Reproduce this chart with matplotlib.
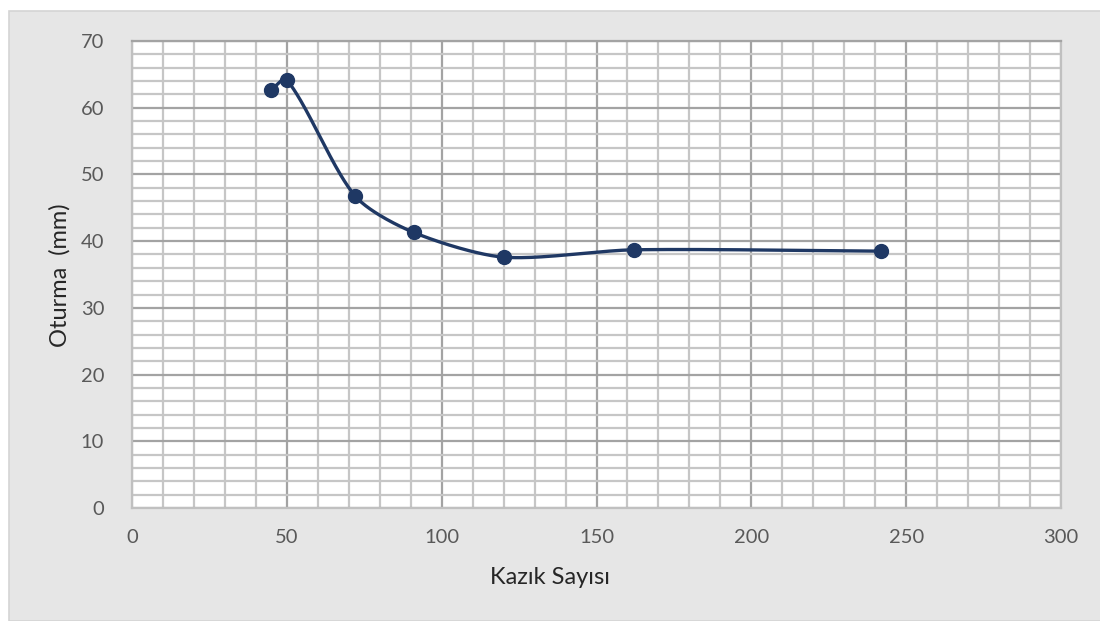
import numpy as np
import matplotlib.pyplot as plt
from matplotlib.patches import Rectangle
from matplotlib.ticker import MultipleLocator

# okunan degerler
kazik = [45, 50, 72, 91, 120, 162, 242]
oturma = [62.7, 64.2, 46.8, 41.3, 37.6, 38.7, 38.5]

x_ticks = [0, 50, 100, 150, 200, 250, 300]
y_ticks = [0, 10, 20, 30, 40, 50, 60, 70]

renk = '#1f3864'
yazi = '#595959'


def excel_smooth(x, y, sx, sy, k=0.27, n=40):
    """Excel benzeri yumusatilmis cizgi (bezier), ekran olceginde"""
    p = np.column_stack([np.asarray(x) * sx, np.asarray(y) * sy])
    p = np.vstack([p[0], p, p[-1]])
    t = np.linspace(0, 1, n)[:, None]
    out = []
    for i in range(1, len(p) - 2):
        p0, p1 = p[i], p[i + 1]
        L = np.linalg.norm(p1 - p0)
        d0 = p[i + 1] - p[i - 1]
        d1 = p[i + 2] - p[i]
        c1 = p0 + d0 / np.linalg.norm(d0) * L * k
        c2 = p1 - d1 / np.linalg.norm(d1) * L * k
        seg = ((1 - t) ** 3) * p0 + 3 * ((1 - t) ** 2) * t * c1 + 3 * (1 - t) * t ** 2 * c2 + t ** 3 * p1
        out.append(seg)
    out = np.vstack(out)
    return out[:, 0] / sx, out[:, 1] / sy


plt.rcParams['font.family'] = ['Lato', 'DejaVu Sans']

fig = plt.figure(figsize=(11, 6.21), dpi=100)
fig.patches.append(Rectangle((9 / 1100, 0), 1, 1 - 11 / 621, transform=fig.transFigure,
                             facecolor='#e6e6e6', edgecolor='#d4d4d4', lw=1.2, zorder=-10))

ax = fig.add_axes([132 / 1100, 1 - 508 / 621, (1061 - 132) / 1100, (508 - 41) / 621])
ax.set_facecolor('white')
ax.set_xlim(0, 300)
ax.set_ylim(0, 70)

ax.xaxis.set_major_locator(MultipleLocator(50))
ax.xaxis.set_minor_locator(MultipleLocator(10))
ax.yaxis.set_major_locator(MultipleLocator(10))
ax.yaxis.set_minor_locator(MultipleLocator(2))
ax.grid(which='minor', color='#c6c6c6', lw=1.6, zorder=0)
ax.grid(which='major', color='#a3a3a3', lw=1.6, zorder=0)
ax.set_axisbelow(True)
for s in ax.spines.values():
    s.set_color('#c0c0c0')
    s.set_linewidth(1.6)
ax.spines['top'].set_color('#a3a3a3')

ax.set_xticks(x_ticks)
ax.set_yticks(y_ticks)
ax.tick_params(which='both', length=0, labelsize=14.5, labelcolor=yazi)
ax.tick_params(axis='x', pad=15)
ax.tick_params(axis='y', pad=20)

xs, ys = excel_smooth(kazik, oturma, 929 / 300, 467 / 70)
ax.plot(xs, ys, color=renk, lw=2.4, zorder=3, solid_capstyle='round')
ax.plot(kazik, oturma, 'o', color=renk, ms=10, zorder=4)

fig.text(550 / 1100, 1 - 577 / 621, 'Kazık Sayısı', ha='center', va='center', fontsize=17, color='#262626')
fig.text(60 / 1100, 1 - 275 / 621, 'Oturma  (mm)', ha='center', va='center', rotation=90,
         fontsize=17, color='#262626')

fig.savefig('out.png', dpi=100)
